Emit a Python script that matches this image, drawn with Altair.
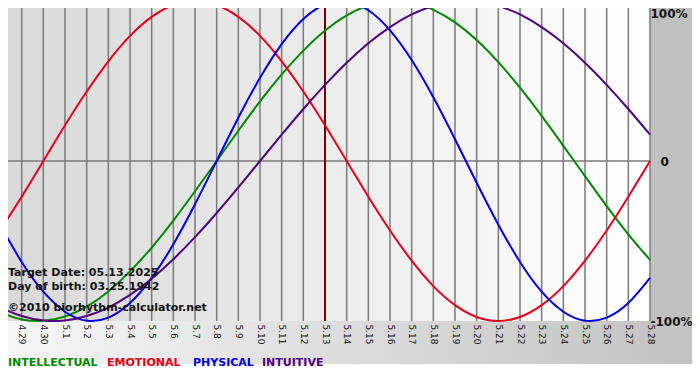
import altair as alt
import pandas as pd

# ---- data ----
day_labels = ["4.28", "4.29", "4.30", "5.1", "5.2", "5.3", "5.4", "5.5", "5.6", "5.7",
              "5.8", "5.9", "5.10", "5.11", "5.12", "5.13", "5.14", "5.15", "5.16", "5.17",
              "5.18", "5.19", "5.20", "5.21", "5.22", "5.23", "5.24", "5.25", "5.26", "5.27", "5.28"]

physical = [-0.398, -0.631, -0.817, -0.942, -0.998, -0.979, -0.888, -0.731, -0.520, -0.270,
            0.000, 0.270, 0.520, 0.731, 0.888, 0.979, 0.998, 0.942, 0.817, 0.631,
            0.398, 0.136, -0.136, -0.398, -0.631, -0.817, -0.942, -0.998, -0.979, -0.888, -0.731]

emotional = [-0.434, -0.223, 0.000, 0.223, 0.434, 0.623, 0.782, 0.901, 0.975, 1.000,
             0.975, 0.901, 0.782, 0.623, 0.434, 0.223, 0.000, -0.223, -0.434, -0.623,
             -0.782, -0.901, -0.975, -1.000, -0.975, -0.901, -0.782, -0.623, -0.434, -0.223, 0.000]

intellectual = [-0.945, -0.990, -0.999, -0.972, -0.910, -0.815, -0.690, -0.541, -0.372, -0.189,
                0.000, 0.189, 0.372, 0.541, 0.690, 0.815, 0.910, 0.972, 0.999, 0.990,
                0.945, 0.866, 0.756, 0.618, 0.458, 0.282, 0.095, -0.095, -0.282, -0.458, -0.618]

intuitive = [-0.916, -0.969, -0.997, -0.997, -0.969, -0.916, -0.837, -0.736, -0.614, -0.476,
             -0.325, -0.165, 0.000, 0.165, 0.325, 0.476, 0.614, 0.736, 0.837, 0.916,
             0.969, 0.997, 0.997, 0.969, 0.916, 0.837, 0.736, 0.614, 0.476, 0.325, 0.165]

series_names = ["INTELLECTUAL", "EMOTIONAL", "PHYSICAL", "INTUITIVE"]
series_colors = ["#008a00", "#e8001a", "#0000e6", "#52007e"]

y_ticks = [-1, 0, 1]
y_tick_labels = ["-100%", "0", "100%"]

target_day = "5.13"
target_text = "Target Date: 05.13.2025"
birth_text = "Day of birth: 03.25.1942"
copyright_text = "\u00a92010 biorhythm-calculator.net"

# ---- tables ----
n = len(day_labels)
rows = []
for name, vals in zip(series_names, [intellectual, emotional, physical, intuitive]):
    for i, v in enumerate(vals):
        rows.append({"i": i, "series": name, "value": v})
df = pd.DataFrame(rows)
days_df = pd.DataFrame({"i": list(range(n)), "label": day_labels})
target_df = pd.DataFrame({"i": [day_labels.index(target_day)]})
one = pd.DataFrame({"a": [0]})

W, H = 642, 313
PR, PB = 42, 51
FONT = "DejaVu Sans"

x_scale = alt.Scale(domain=[0, n - 1], range=[-8, W], nice=False, zero=False)
y_scale = alt.Scale(domain=[-1, 1], range=[H, -7], nice=False, zero=False)

x_label_expr = "[" + ",".join("'" + s + "'" for s in day_labels) + "][datum.value]"
x_axis = alt.Axis(values=list(range(n)), labelExpr=x_label_expr, grid=False, ticks=False,
                  domain=False, labelAngle=90, labelAlign="left", labelBaseline="middle",
                  labelPadding=3, labelFont=FONT, labelFontSize=9, labelColor="#111111",
                  labelOverlap=False, labelFlush=False, zindex=1, title=None)

y_label_expr = " : ".join("datum.value == %d ? '%s'" % (v, l) for v, l in zip(y_ticks[1:], y_tick_labels[1:])) \
    + " : '" + y_tick_labels[0] + "'"
y_axis = alt.Axis(orient="right", values=y_ticks, labelExpr=y_label_expr, grid=False, ticks=False,
                  domain=False, labelFont=FONT, labelFontWeight="bold", labelFontSize=12,
                  labelColor="#111111",
                  labelBaseline={"condition": {"test": "datum.value == 1", "value": "top"}, "value": "middle"},
                  labelOffset={"condition": {"test": "datum.value == 1", "value": 7}, "value": 0},
                  labelPadding={"condition": {"test": "datum.value == 0", "value": 10},
                                "value": 0},
                  labelOverlap=False, labelFlush=False, zindex=1, title=None)

X = alt.X("i:Q", scale=x_scale, axis=x_axis)
Y = alt.Y("value:Q", scale=y_scale, axis=y_axis)

bottom_grad = alt.Gradient(gradient="linear", x1=0, x2=1, y1=0, y2=0,
                           stops=[alt.GradientStop(color="#f6f6f6", offset=0),
                                  alt.GradientStop(color="#c2c2c2", offset=1)])
plot_grad = alt.Gradient(gradient="linear", x1=0, x2=1, y1=0, y2=0,
                         stops=[alt.GradientStop(color="#d9d9d9", offset=0),
                                alt.GradientStop(color="#ffffff", offset=1)])

plot_bg = alt.Chart(one).mark_rect(fill=plot_grad).encode(
    x=alt.value(0), x2=alt.value(W), y=alt.value(0), y2=alt.value(H))
right_strip = alt.Chart(one).mark_rect(fill="#c0c0c0").encode(
    x=alt.value(W), x2=alt.value(W + PR), y=alt.value(0), y2=alt.value(H))
bottom_band = alt.Chart(one).mark_rect(fill=bottom_grad).encode(
    x=alt.value(0), x2=alt.value(W + PR), y=alt.value(H), y2=alt.value(H + 43))

grid = alt.Chart(days_df).mark_rule(color="#7a7a7a", strokeWidth=1.5).encode(x=X)
zero = alt.Chart(one).mark_rule(color="#7a7a7a", strokeWidth=1.5).encode(
    y=alt.YDatum(0, scale=y_scale, axis=y_axis))
target = alt.Chart(target_df).mark_rule(color="#7a0000", strokeWidth=2).encode(x=X)

lines = alt.Chart(df).mark_line(strokeWidth=2, interpolate="natural").encode(
    x=X, y=Y,
    color=alt.Color("series:N", scale=alt.Scale(domain=series_names, range=series_colors), legend=None),
)

def txt(s, x, y, color="#111111"):
    return alt.Chart(one).mark_text(text=s, align="left", baseline="alphabetic", font=FONT,
                                    fontWeight="bold", fontSize=11, color=color).encode(
        x=alt.value(x), y=alt.value(y))

texts = [txt(target_text, 0, 268), txt(birth_text, 0, 282), txt(copyright_text, 0, 302.5)]
legend_x = [0, 99, 185, 254]
legend = [txt(nm, lx, 358, c) for nm, lx, c in zip(series_names, legend_x, series_colors)]

chart = alt.layer(plot_bg, bottom_band, right_strip, grid, zero, target, lines, *texts, *legend).properties(
    width=W, height=H,
    padding={"left": 0, "top": 0, "right": PR, "bottom": PB},
    autosize=alt.AutoSizeParams(type="none"),
    background="white",
).configure_view(stroke=None)

chart.save("out.html", embed_options={"renderer": "svg", "actions": False})
